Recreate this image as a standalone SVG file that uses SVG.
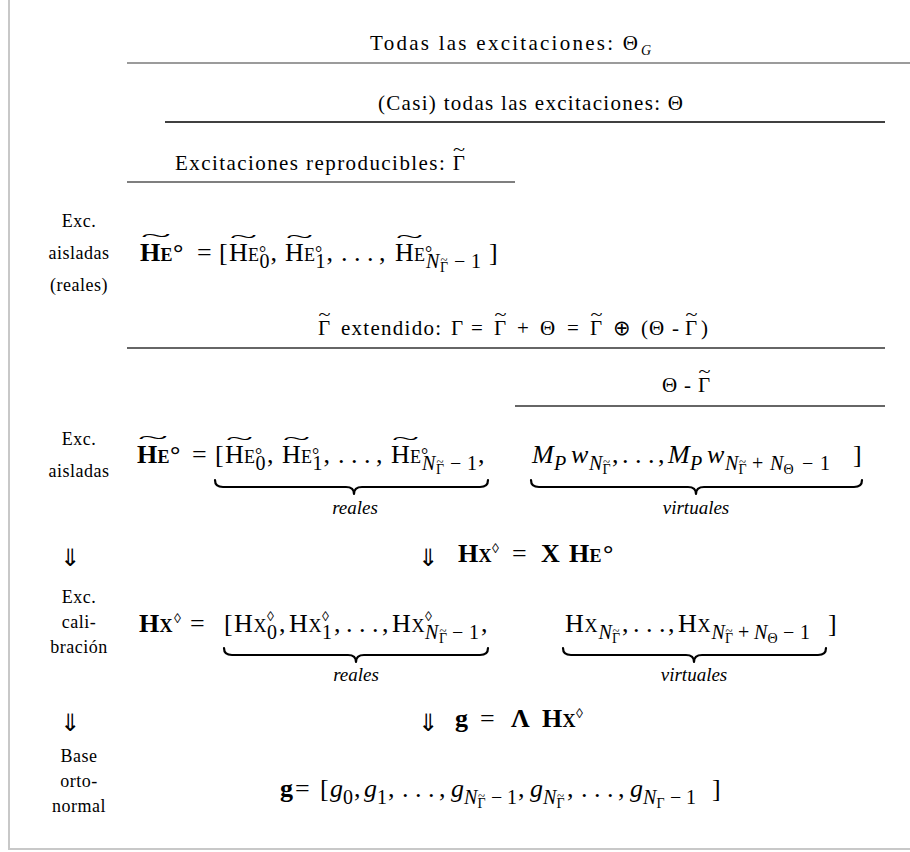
<svg xmlns="http://www.w3.org/2000/svg" width="910" height="852" viewBox="0 0 910 852">
<style>
text{font-family:"Liberation Serif","Times New Roman",serif;fill:#000}
.m{font-size:26px}
.b{font-weight:bold}
.i{font-style:italic}
.n{font-style:normal}
.sc{font-size:18px}
.s{font-size:20px}
.ss{font-size:14px}
.cap{font-size:21px}
.lab{font-size:18px;text-anchor:middle;letter-spacing:0.5px}
.sym{font-family:"DejaVu Sans",sans-serif}
.arr{font-family:"DejaVu Sans",sans-serif;font-size:24px;text-anchor:middle}
.tl{font-size:18px}
.tls{font-size:12px}
.tlc{font-size:16px}
.dz{font-size:14px}
.brace{fill:none;stroke:#000;stroke-width:2.2;stroke-linejoin:round;stroke-linecap:round}
.under{font-size:19px;font-style:italic;text-anchor:middle}
</style>
<rect x="0" y="0" width="910" height="852" fill="#fff"/>
<g id="frame" stroke="#c8c8c8" stroke-width="2" fill="none">
<line x1="9" y1="0" x2="9" y2="849"/>
<line x1="8" y1="849" x2="910" y2="849"/>
</g>
<g id="connectors">
<line x1="127" y1="63" x2="910" y2="63" stroke="#7a7a7a" stroke-width="1.6"/>
<line x1="165" y1="122" x2="885" y2="122" stroke="#000" stroke-width="1.3"/>
<line x1="127" y1="182" x2="515" y2="182" stroke="#555" stroke-width="1.3"/>
<line x1="127" y1="348" x2="885" y2="348" stroke="#333" stroke-width="1.3"/>
<line x1="515" y1="406" x2="885" y2="406" stroke="#333" stroke-width="1.3"/>
<path class="brace" d="M215,480 Q215,487 223,487 L346,487 Q354,487 354,494 Q354,487 362,487 L480,487 Q488,487 488,480"/>
<path class="brace" d="M531,480 Q531,487 539,487 L688,487 Q696,487 696,494 Q696,487 704,487 L854,487 Q862,487 862,480"/>
<path class="brace" d="M224,648 Q224,655 232,655 L348,655 Q356,655 356,662 Q356,655 364,655 L480,655 Q488,655 488,648"/>
<path class="brace" d="M563,648 Q563,655 571,655 L686,655 Q694,655 694,662 Q694,655 702,655 L818,655 Q826,655 826,648"/>
</g>
<g id="cap-todas">
<text class="cap" x="370" y="50" textLength="268" lengthAdjust="spacing">Todas las excitaciones: Θ</text>
<text class="ss i" x="641" y="55">G</text>
</g>
<g id="cap-casi">
<text class="cap" x="378" y="110" textLength="305" lengthAdjust="spacing">(Casi) todas las excitaciones: Θ</text>
</g>
<g id="cap-repro">
<text class="cap" x="175" y="170" textLength="290" lengthAdjust="spacing">Excitaciones reproducibles: Γ</text>
<text class="tlc" x="453" y="155" textLength="12" lengthAdjust="spacingAndGlyphs">~</text>
</g>
<g id="row1">
<text class="lab" x="79" y="227">Exc.</text>
<text class="lab" x="79" y="259">aisladas</text>
<text class="lab" x="79" y="291">(reales)</text>
<text class="tl" x="141" y="242" textLength="30" lengthAdjust="spacingAndGlyphs">~</text>
<text class="m b" x="140" y="261">H<tspan class="sc" x="160.5">E</tspan><tspan x="173">°</tspan></text>
<text class="m" x="197" y="261">=</text>
<text class="m" x="219" y="261">[</text>
<text class="tl" x="230" y="243" textLength="27" lengthAdjust="spacingAndGlyphs">~</text>
<text class="m" x="229" y="261">H<tspan class="sc" x="248">E</tspan><tspan class="sc" x="259" y="259">°</tspan><tspan class="s" x="259.5" y="268">0</tspan></text>
<text class="m" x="270.5" y="261">,</text>
<text class="tl" x="286" y="243" textLength="27" lengthAdjust="spacingAndGlyphs">~</text>
<text class="m" x="285" y="261">H<tspan class="sc" x="304">E</tspan><tspan class="sc" x="315" y="259">°</tspan><tspan class="s" x="315.5" y="268">1</tspan></text>
<text class="m" x="326.5" y="261">,</text>
<text class="m" x="341" y="261">. . .</text>
<text class="m" x="379" y="261">,</text>
<text class="tl" x="396" y="243" textLength="27" lengthAdjust="spacingAndGlyphs">~</text>
<text class="m" x="395" y="261">H<tspan class="sc" x="414">E</tspan><tspan class="sc" x="425" y="259">°</tspan><tspan class="s i" x="426" y="268">N</tspan><tspan class="ss n" x="440" y="272">Γ</tspan><tspan class="s n" x="454" y="268">−</tspan><tspan class="s n" x="471" y="268">1</tspan></text>
<text class="tls" x="440.5" y="263.5" textLength="7" lengthAdjust="spacingAndGlyphs">~</text>
<text class="m" x="489" y="261">]</text>
</g>
<g id="cap-extendido">
<text class="cap" x="318" y="335">Γ</text>
<text class="tlc" x="318.5" y="320" textLength="12" lengthAdjust="spacingAndGlyphs">~</text>
<text class="cap" x="341" y="335" textLength="100" lengthAdjust="spacing">extendido:</text>
<text class="cap" x="451" y="335">Γ</text>
<text class="cap" x="471" y="335">=</text>
<text class="cap" x="494" y="335">Γ</text>
<text class="tlc" x="494.5" y="320" textLength="12" lengthAdjust="spacingAndGlyphs">~</text>
<text class="cap" x="517" y="335">+</text>
<text class="cap" x="540" y="335">Θ</text>
<text class="cap" x="567" y="335">=</text>
<text class="cap" x="590" y="335">Γ</text>
<text class="tlc" x="590.5" y="320" textLength="12" lengthAdjust="spacingAndGlyphs">~</text>
<text class="cap sym" x="613" y="335">⊕</text>
<text class="cap" x="641" y="335">(</text>
<text class="cap" x="649" y="335">Θ</text>
<text class="cap" x="672" y="335">-</text>
<text class="cap" x="685" y="335">Γ</text>
<text class="tlc" x="685.5" y="320" textLength="12" lengthAdjust="spacingAndGlyphs">~</text>
<text class="cap" x="701" y="335">)</text>
</g>
<g id="cap-diff">
<text class="cap" x="662" y="392">Θ</text>
<text class="cap" x="684" y="392">-</text>
<text class="cap" x="698" y="392">Γ</text>
<text class="tlc" x="698.5" y="377" textLength="12" lengthAdjust="spacingAndGlyphs">~</text>
</g>
<g id="row2">
<text class="lab" x="79" y="445">Exc.</text>
<text class="lab" x="79" y="477">aisladas</text>
<text class="tl" x="138" y="444" textLength="30" lengthAdjust="spacingAndGlyphs">~</text>
<text class="m b" x="137" y="463">H<tspan class="sc" x="157.5">E</tspan><tspan x="170">°</tspan></text>
<text class="m" x="192" y="463">=</text>
<text class="m" x="215" y="463">[</text>
<text class="tl" x="226" y="445" textLength="27" lengthAdjust="spacingAndGlyphs">~</text>
<text class="m" x="225" y="463">H<tspan class="sc" x="244">E</tspan><tspan class="sc" x="255" y="461">°</tspan><tspan class="s" x="255.5" y="470">0</tspan></text>
<text class="m" x="267" y="463">,</text>
<text class="tl" x="283" y="445" textLength="27" lengthAdjust="spacingAndGlyphs">~</text>
<text class="m" x="282" y="463">H<tspan class="sc" x="301">E</tspan><tspan class="sc" x="312" y="461">°</tspan><tspan class="s" x="312.5" y="470">1</tspan></text>
<text class="m" x="323.5" y="463">,</text>
<text class="m" x="338" y="463">. . .</text>
<text class="m" x="376" y="463">,</text>
<text class="tl" x="392" y="445" textLength="27" lengthAdjust="spacingAndGlyphs">~</text>
<text class="m" x="391" y="463">H<tspan class="sc" x="410">E</tspan><tspan class="sc" x="421" y="461">°</tspan><tspan class="s i" x="422" y="470">N</tspan><tspan class="ss n" x="436" y="474">Γ</tspan><tspan class="s n" x="450" y="470">−</tspan><tspan class="s n" x="467" y="470">1</tspan></text>
<text class="tls" x="436.5" y="465.5" textLength="7" lengthAdjust="spacingAndGlyphs">~</text>
<text class="m" x="478" y="463">,</text>
<text class="m i" x="532" y="463">M<tspan class="s" x="554" y="470">P</tspan><tspan class="m" x="571" y="463">w</tspan><tspan class="s" x="589" y="470">N</tspan><tspan class="ss n" x="602.5" y="474">Γ</tspan></text>
<text class="tls" x="603" y="465.5" textLength="7" lengthAdjust="spacingAndGlyphs">~</text>
<text class="m" x="612" y="463">,</text>
<text class="m" x="622" y="463">. . .</text>
<text class="m" x="658" y="463">,</text>
<text class="m i" x="668" y="463">M<tspan class="s" x="690" y="470">P</tspan><tspan class="m" x="707" y="463">w</tspan><tspan class="s" x="725" y="470">N</tspan><tspan class="ss n" x="738.5" y="474">Γ</tspan><tspan class="s n" x="752" y="470">+</tspan><tspan class="s" x="770" y="470">N</tspan><tspan class="ss n" x="783.5" y="474">Θ</tspan><tspan class="s n" x="802" y="470">−</tspan><tspan class="s n" x="820" y="470">1</tspan></text>
<text class="tls" x="739" y="465.5" textLength="7" lengthAdjust="spacingAndGlyphs">~</text>
<text class="m" x="853" y="463">]</text>
<text class="under" x="355" y="514">reales</text>
<text class="under" x="696" y="514">virtuales</text>
</g>
<g id="step1">
<text class="arr" x="70" y="566">⇓</text>
<text class="arr" x="428" y="566">⇓</text>
<text class="m b" x="458" y="562">H<tspan class="sc" x="478.5">X</tspan><tspan class="dz" x="492" y="553">◊</tspan></text>
<text class="m" x="512" y="562">=</text>
<text class="m b" x="541" y="562">X</text>
<text class="m b" x="569" y="562">H<tspan class="sc" x="589.5">E</tspan><tspan x="603">°</tspan></text>
</g>
<g id="row3">
<text class="lab" x="79" y="603">Exc.</text>
<text class="lab" x="79" y="628">cali-</text>
<text class="lab" x="79" y="653">bración</text>
<text class="m b" x="139" y="632">H<tspan class="sc" x="159.5">X</tspan><tspan class="dz" x="174" y="623">◊</tspan></text>
<text class="m" x="190" y="632">=</text>
<text class="m" x="224" y="632">[</text>
<text class="m" x="234" y="632">H<tspan class="sc" x="253.5">X</tspan><tspan class="dz" x="267" y="621">◊</tspan><tspan class="s" x="267" y="639">0</tspan></text>
<text class="m" x="279" y="632">,</text>
<text class="m" x="289" y="632">H<tspan class="sc" x="308.5">X</tspan><tspan class="dz" x="322" y="621">◊</tspan><tspan class="s" x="322" y="639">1</tspan></text>
<text class="m" x="334" y="632">,</text>
<text class="m" x="346" y="632">. . .</text>
<text class="m" x="382" y="632">,</text>
<text class="m" x="392" y="632">H<tspan class="sc" x="411.5">X</tspan><tspan class="dz" x="425" y="621">◊</tspan><tspan class="s i" x="425" y="639">N</tspan><tspan class="ss" x="439" y="643">Γ</tspan><tspan class="s" x="452" y="639">−</tspan><tspan class="s" x="469" y="639">1</tspan></text>
<text class="tls" x="439.5" y="634.5" textLength="7" lengthAdjust="spacingAndGlyphs">~</text>
<text class="m" x="481" y="632">,</text>
<text class="m" x="565" y="632">H<tspan class="sc" x="584.5">X</tspan><tspan class="s i" x="598.5" y="639">N</tspan><tspan class="ss" x="612" y="643">Γ</tspan></text>
<text class="tls" x="612.5" y="634.5" textLength="7" lengthAdjust="spacingAndGlyphs">~</text>
<text class="m" x="622" y="632">,</text>
<text class="m" x="633" y="632">. . .</text>
<text class="m" x="668" y="632">,</text>
<text class="m" x="678" y="632">H<tspan class="sc" x="697.5">X</tspan><tspan class="s i" x="711.5" y="639">N</tspan><tspan class="ss" x="725" y="643">Γ</tspan><tspan class="s" x="738" y="639">+</tspan><tspan class="s i" x="754" y="639">N</tspan><tspan class="ss" x="767.5" y="643">Θ</tspan><tspan class="s" x="783" y="639">−</tspan><tspan class="s" x="800" y="639">1</tspan></text>
<text class="tls" x="725.5" y="634.5" textLength="7" lengthAdjust="spacingAndGlyphs">~</text>
<text class="m" x="828" y="632">]</text>
<text class="under" x="356" y="681">reales</text>
<text class="under" x="694" y="681">virtuales</text>
</g>
<g id="step2">
<text class="arr" x="70" y="731">⇓</text>
<text class="arr" x="428" y="731">⇓</text>
<text class="m b" x="455" y="727">g</text>
<text class="m" x="480" y="727">=</text>
<text class="m b" x="511" y="727">Λ</text>
<text class="m b" x="542" y="727">H<tspan class="sc" x="562.5">X</tspan><tspan class="dz" x="576" y="718">◊</tspan></text>
</g>
<g id="row4">
<text class="lab" x="79" y="762">Base</text>
<text class="lab" x="79" y="787">orto-</text>
<text class="lab" x="79" y="812">normal</text>
<text class="m b" x="280" y="797">g</text>
<text class="m" x="295" y="797">=</text>
<text class="m" x="320" y="797">[</text>
<text class="m i" x="330" y="797">g<tspan class="s n" x="343" y="804">0</tspan></text>
<text class="m" x="354" y="797">,</text>
<text class="m i" x="364" y="797">g<tspan class="s n" x="377" y="804">1</tspan></text>
<text class="m" x="388" y="797">,</text>
<text class="m" x="402" y="797">. . .</text>
<text class="m" x="439" y="797">,</text>
<text class="m i" x="451" y="797">g<tspan class="s" x="464" y="804">N</tspan><tspan class="ss n" x="477.5" y="808">Γ</tspan><tspan class="s n" x="491" y="804">−</tspan><tspan class="s n" x="507" y="804">1</tspan></text>
<text class="tls" x="478" y="799.5" textLength="7" lengthAdjust="spacingAndGlyphs">~</text>
<text class="m" x="518" y="797">,</text>
<text class="m i" x="530" y="797">g<tspan class="s" x="543" y="804">N</tspan><tspan class="ss n" x="556.5" y="808">Γ</tspan></text>
<text class="tls" x="557" y="799.5" textLength="7" lengthAdjust="spacingAndGlyphs">~</text>
<text class="m" x="567" y="797">,</text>
<text class="m" x="581" y="797">. . .</text>
<text class="m" x="618" y="797">,</text>
<text class="m i" x="630" y="797">g<tspan class="s" x="643" y="804">N</tspan><tspan class="ss n" x="656.5" y="808">Γ</tspan><tspan class="s n" x="670" y="804">−</tspan><tspan class="s n" x="686" y="804">1</tspan></text>
<text class="m" x="712" y="797">]</text>
</g>
</svg>
